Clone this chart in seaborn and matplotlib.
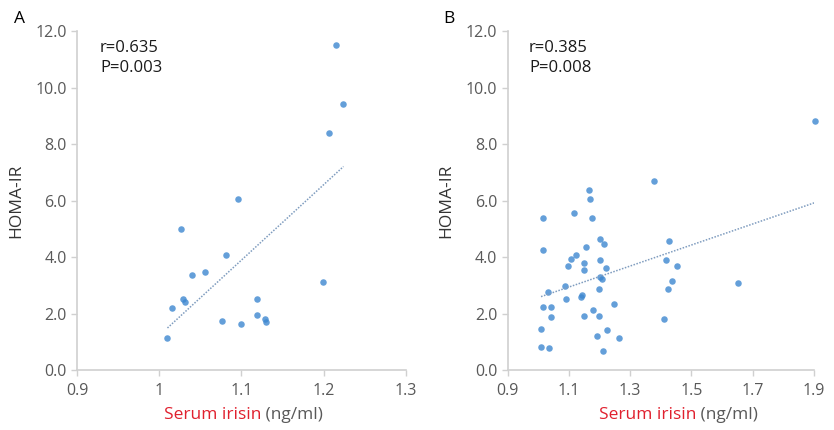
import seaborn as sns
import pandas as pd
import matplotlib.pyplot as plt
import numpy as np

# Panel A data (serum irisin ng/ml vs HOMA-IR)
irisin_a = [1.215, 1.224, 1.206, 1.096, 1.027, 1.081, 1.040, 1.056, 1.029, 1.031,
            1.015, 1.010, 1.076, 1.100, 1.119, 1.119, 1.128, 1.130, 1.199]
homa_a = [11.52, 9.42, 8.39, 6.07, 4.99, 4.08, 3.36, 3.47, 2.51, 2.40,
          2.21, 1.13, 1.73, 1.64, 2.51, 1.94, 1.82, 1.71, 3.11]

# Panel B data
irisin_b = [1.904, 1.377, 1.166, 1.169, 1.116, 1.016, 1.176, 1.200, 1.215, 1.014,
            1.156, 1.123, 1.106, 1.149, 1.203, 1.098, 1.148, 1.220, 1.201, 1.209,
            1.199, 1.087, 1.033, 1.089, 1.138, 1.144, 1.247, 1.017, 1.043, 1.040,
            1.148, 1.179, 1.197, 1.010, 1.009, 1.034, 1.191, 1.223, 1.262, 1.210,
            1.427, 1.417, 1.453, 1.436, 1.423, 1.412, 1.652]
homa_b = [8.83, 6.71, 6.39, 6.06, 5.56, 5.39, 5.39, 4.65, 4.47, 4.25,
          4.37, 4.07, 3.94, 3.78, 3.88, 3.67, 3.54, 3.63, 3.29, 3.23,
          2.88, 2.99, 2.76, 2.52, 2.58, 2.65, 2.35, 2.23, 2.23, 1.88,
          1.92, 2.12, 1.92, 1.44, 0.83, 0.77, 1.21, 1.41, 1.14, 0.69,
          4.58, 3.91, 3.67, 3.16, 2.86, 1.79, 3.07]

panel_letters = ['A', 'B']
stats_text = ['r=0.635\nP=0.003', 'r=0.385\nP=0.008']
xticks_a = [0.9, 1.0, 1.1, 1.2, 1.3]
xticklabels_a = ['0.9', '1', '1.1', '1.2', '1.3']
xticks_b = [0.9, 1.1, 1.3, 1.5, 1.7, 1.9]
xticklabels_b = ['0.9', '1.1', '1.3', '1.5', '1.7', '1.9']
yticks = [0, 2, 4, 6, 8, 10, 12]

sns.set_theme(style='white')
plt.rcParams['font.family'] = ['Open Sans', 'DejaVu Sans']

dot_color = '#3d87d0'
line_color = '#7f9cbf'
grey = '#595959'
spine_grey = '#d0d0d0'

fig = plt.figure(figsize=(8.34, 4.30), dpi=100)
ax_a = fig.add_axes([0.0923, 0.1395, 0.3945, 0.788])
ax_b = fig.add_axes([0.6087, 0.1395, 0.3673, 0.788])

df_a = pd.DataFrame({'irisin': irisin_a, 'homa': homa_a})
df_b = pd.DataFrame({'irisin': irisin_b, 'homa': homa_b})

panels = [(ax_a, df_a, xticks_a, xticklabels_a, 0.56),
          (ax_b, df_b, xticks_b, xticklabels_b, 0.615)]

for i, (ax, df, xt, xtl, split) in enumerate(panels):
    sns.regplot(data=df, x='irisin', y='homa', ax=ax, ci=None,
                scatter_kws={'s': 22, 'color': dot_color, 'linewidths': 0,
                             'clip_on': False},
                line_kws={'color': line_color, 'linestyle': (0, (1, 1)),
                          'linewidth': 1.1})
    ax.set_xlim(xt[0], xt[-1])
    ax.set_ylim(0, 12)
    ax.set_xticks(xt)
    ax.set_xticklabels(xtl)
    ax.set_yticks(yticks)
    ax.set_yticklabels(['%.1f' % v for v in yticks])
    ax.tick_params(axis='both', colors=spine_grey, labelcolor=grey,
                   labelsize=11.5, length=4, width=1, direction='out',
                   bottom=True, left=True)
    ax.tick_params(axis='x', pad=5)
    sns.despine(ax=ax)
    for side in ['left', 'bottom']:
        ax.spines[side].set_color(spine_grey)
        ax.spines[side].set_linewidth(1.2)
    ax.set_xlabel('')
    ax.set_ylabel('HOMA-IR', color='#333333', fontsize=12.5, labelpad=8)

    # two-colour x label
    t1 = ax.text(split, -0.133, 'Serum irisin', color='#e0202e',
                 fontsize=12.5, ha='right', va='center',
                 transform=ax.transAxes)
    ax.annotate(' (ng/ml)', xy=(1, 0), xycoords=t1, va='bottom',
                color=grey, fontsize=12.5)

    ax.text(0.07, 0.975, stats_text[i], transform=ax.transAxes,
            fontsize=12, color='#1a1a1a', va='top', linespacing=1.35)

fig.text(0.017, 0.955, panel_letters[0], fontsize=12.5, color='black',
         va='center', ha='left')
fig.text(0.532, 0.955, panel_letters[1], fontsize=12.5, color='black',
         va='center', ha='left')

fig.savefig('out.png', dpi=100)
